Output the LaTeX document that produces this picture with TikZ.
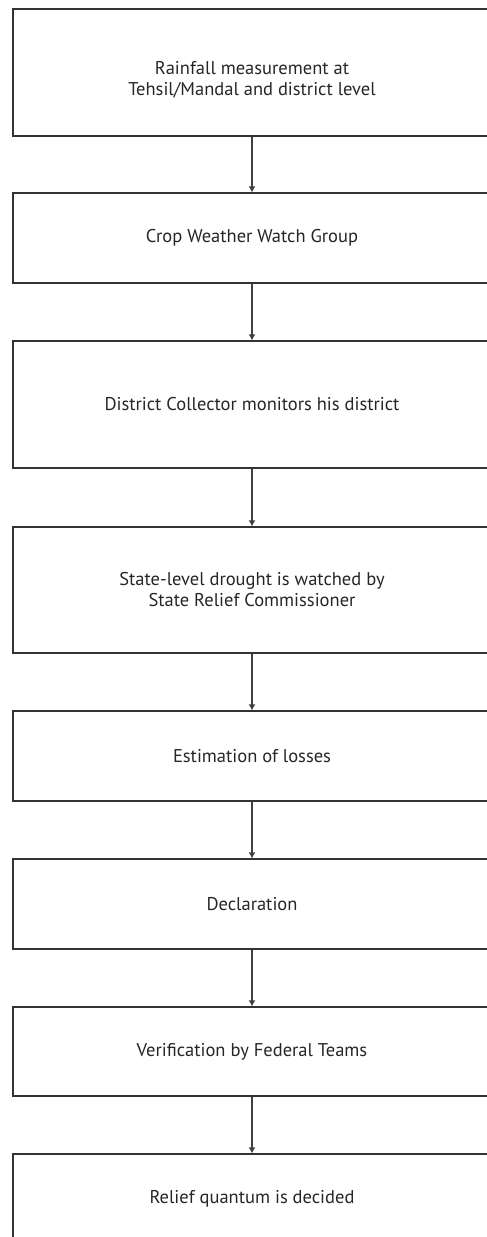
\documentclass[tikz,border=0pt]{standalone}
\usepackage{fontspec}
\setmainfont{PT Sans}
\usetikzlibrary{arrows.meta}
\tikzset{
  stage/.style={draw=black!80, line width=1.2pt, rectangle, minimum width=478pt,
    align=center, font=\fontsize{18.5}{21}\selectfont, text=black!85, inner sep=0pt},
  flow/.style={draw=black!75, line width=1.2pt, -{Latex[length=6pt,width=7pt]}}
}
\begin{document}
\begin{tikzpicture}[x=1pt,y=-1pt]
  \useasboundingbox (0,0) rectangle (487,1237);
  \clip (0,0) rectangle (487,1237);
  \node [stage, minimum height=127pt] (rain) at (252,72.5)
    {\raisebox{-8pt}[\height][\depth]{\begin{tabular}{@{}c@{}}Rainfall measurement at\\Tehsil/Mandal and district level\end{tabular}}};
  \node [stage, minimum height=90pt] (cwwg) at (252,238) {Crop Weather Watch Group};
  \node [stage, minimum height=127pt] (coll) at (252,404.5) {District Collector monitors his district};
  \node [stage, minimum height=126pt] (state) at (252,590) {State-level drought is watched by\\State Relief Commissioner};
  \node [stage, minimum height=90pt] (loss) at (252,756) {Estimation of losses};
  \node [stage, minimum height=90pt] (decl) at (252,904) {Declaration};
  \node [stage, minimum height=89pt] (verif) at (252,1051.5) {Verification by Federal Teams};
  \node [stage, minimum height=90pt] (relief) at (252,1199) {Relief quantum is decided};
  % arrows down the chain
  \draw [flow] (rain) -- (cwwg);
  \draw [flow] (cwwg) -- (coll);
  \draw [flow] (coll) -- (state);
  \draw [flow] (state) -- (loss);
  \draw [flow] (loss) -- (decl);
  \draw [flow] (decl) -- (verif);
  \draw [flow] (verif) -- (relief);
\end{tikzpicture}
\end{document}
